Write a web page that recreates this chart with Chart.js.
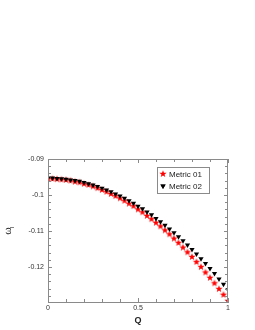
<!DOCTYPE html>
<html lang="en">
<head>
  <meta charset="UTF-8">
  <title>Omega I vs Q</title>
  <script src="https://cdn.jsdelivr.net/npm/chart.js"></script>
  <style>
    body { margin: 0; background: #fff; }
  </style>
</head>
<body>
  <canvas id="omegaChart" width="255" height="330"></canvas>

  <script>
    // Q values (41 points from 0 to 1)
    const qValues = [0, 0.025, 0.05, 0.075, 0.1, 0.125, 0.15, 0.175, 0.2, 0.225,
      0.25, 0.275, 0.3, 0.325, 0.35, 0.375, 0.4, 0.425, 0.45, 0.475,
      0.5, 0.525, 0.55, 0.575, 0.6, 0.625, 0.65, 0.675, 0.7, 0.725,
      0.75, 0.775, 0.8, 0.825, 0.85, 0.875, 0.9, 0.925, 0.95, 0.975, 1];

    const metric01 = [-0.0955, -0.0955, -0.0956, -0.0957, -0.0958, -0.0960, -0.0963, -0.0965, -0.0969, -0.0972,
      -0.0976, -0.0981, -0.0986, -0.0991, -0.0997, -0.1003, -0.1009, -0.1016, -0.1024, -0.1031,
      -0.1040, -0.1048, -0.1058, -0.1067, -0.1077, -0.1087, -0.1098, -0.1109, -0.1121, -0.1133,
      -0.1146, -0.1159, -0.1172, -0.1186, -0.1200, -0.1215, -0.1230, -0.1245, -0.1261, -0.1277, -0.1294];

    const metric02 = [-0.0953, -0.0953, -0.0954, -0.0955, -0.0956, -0.0958, -0.0960, -0.0962, -0.0965, -0.0969,
      -0.0972, -0.0976, -0.0981, -0.0986, -0.0991, -0.0997, -0.1003, -0.1009, -0.1016, -0.1023,
      -0.1031, -0.1038, -0.1047, -0.1055, -0.1065, -0.1074, -0.1084, -0.1094, -0.1105, -0.1116,
      -0.1127, -0.1139, -0.1151, -0.1164, -0.1177, -0.1190, -0.1204, -0.1218, -0.1233, -0.1248, -0.1263];

    const seriesNames = ['Metric 01', 'Metric 02'];

    const xTickValues = [0, 0.1, 0.2, 0.3, 0.4, 0.5, 0.6, 0.7, 0.8, 0.9, 1];
    const xTickLabels = ['0', '', '', '', '', '0.5', '', '', '', '', '1'];
    const yTickValues = [-0.09, -0.092, -0.094, -0.096, -0.098, -0.1, -0.102, -0.104, -0.106, -0.108,
      -0.11, -0.112, -0.114, -0.116, -0.118, -0.12, -0.122, -0.124, -0.126, -0.128];
    const yTickLabels = ['-0.09', '', '', '', '', '-0.1', '', '', '', '', '-0.11', '', '', '', '', '-0.12', '', '', '', ''];

    const FONT = '"Liberation Sans", Arial, sans-serif';
    const AXIS = '#8a8a8a';

    // filled five-point star for the red series
    function makeStar(color, r) {
      const c = document.createElement('canvas');
      const s = Math.ceil(r * 2 + 2);
      c.width = s; c.height = s;
      const g = c.getContext('2d');
      g.fillStyle = color;
      g.beginPath();
      for (let i = 0; i < 10; i++) {
        const rad = i % 2 === 0 ? r : r * 0.42;
        const a = -Math.PI / 2 + i * Math.PI / 5;
        const px = s / 2 + rad * Math.cos(a), py = s / 2 + rad * Math.sin(a);
        if (i === 0) g.moveTo(px, py); else g.lineTo(px, py);
      }
      g.closePath();
      g.fill();
      return c;
    }
    const redStar = makeStar('#ff0000', 3.8);

    const toPoints = (ys) => qValues.map((q, i) => ({ x: q, y: ys[i] }));

    // frame, inward ticks, y title with subscript, legend box
    const framePlugin = {
      id: 'frame',
      afterDraw(chart) {
        const ctx = chart.ctx;
        const a = chart.chartArea;
        const xs = chart.scales.x, ys = chart.scales.y;
        ctx.save();
        ctx.strokeStyle = AXIS;
        ctx.lineWidth = 1;
        ctx.strokeRect(a.left + 0.5, a.top + 0.5, a.right - a.left - 1, a.bottom - a.top);
        ctx.beginPath();
        xTickValues.forEach((v, i) => {
          const px = Math.round(xs.getPixelForValue(v)) + 0.5;
          const len = xTickLabels[i] ? 4 : 3;
          ctx.moveTo(px, a.bottom); ctx.lineTo(px, a.bottom - len);
          ctx.moveTo(px, a.top); ctx.lineTo(px, a.top + len);
        });
        yTickValues.forEach((v, i) => {
          const py = Math.round(ys.getPixelForValue(v)) + 0.5;
          const len = yTickLabels[i] ? 4 : 3;
          ctx.moveTo(a.left, py); ctx.lineTo(a.left + len, py);
          ctx.moveTo(a.right, py); ctx.lineTo(a.right - len, py);
        });
        ctx.stroke();

        // y axis title: omega with subscript I
        ctx.translate(a.left - 37, (a.top + a.bottom) / 2);
        ctx.rotate(-Math.PI / 2);
        ctx.fillStyle = '#222';
        ctx.textBaseline = 'alphabetic';
        ctx.font = '9px ' + FONT;
        ctx.fillText('ω', -4, 0);
        ctx.font = '6px ' + FONT;
        ctx.fillText('I', 2, 3);
        ctx.restore();

        // legend
        ctx.save();
        const lx = a.left + 109, ly = a.top + 8;
        ctx.fillStyle = '#fff';
        ctx.fillRect(lx, ly, 52, 26);
        ctx.strokeStyle = AXIS;
        ctx.strokeRect(lx + 0.5, ly + 0.5, 52, 26);
        ctx.font = '8px ' + FONT;
        ctx.fillStyle = '#222';
        ctx.textBaseline = 'middle';
        chart.data.datasets.forEach((ds, i) => {
          const cy = ly + 7 + i * 12;
          Chart.helpers.drawPoint(ctx, {
            pointStyle: ds.pointStyle, radius: ds.pointRadius, rotation: ds.rotation || 0,
            borderWidth: 0
          }, lx + 6, cy);
          if (ds.pointStyle === 'triangle') {
            ctx.fillStyle = ds.backgroundColor;
            ctx.fill();
          }
          ctx.fillStyle = '#222';
          ctx.fillText(ds.label, lx + 12, cy + 0.5);
        });
        ctx.restore();
      }
    };

    const config = {
      type: 'scatter',
      data: {
        datasets: [
          {
            label: seriesNames[0],
            data: toPoints(metric01),
            pointStyle: redStar,
            pointRadius: 4,
            order: 2
          },
          {
            label: seriesNames[1],
            data: toPoints(metric02),
            pointStyle: 'triangle',
            rotation: 180,
            pointRadius: 3,
            backgroundColor: '#000',
            borderColor: '#000',
            borderWidth: 0,
            order: 1
          }
        ]
      },
      options: {
        responsive: false,
        animation: false,
        layout: { padding: { left: 0, top: 159, right: 27, bottom: 0 } },
        plugins: {
          legend: { display: false },
          tooltip: { enabled: false }
        },
        scales: {
          x: {
            type: 'linear',
            min: 0,
            max: 1,
            afterBuildTicks: (s) => { s.ticks = xTickValues.map(v => ({ value: v })); },
            afterFit: (s) => { s.height = 28; },
            ticks: {
              autoSkip: false,
              maxRotation: 0,
              padding: 2,
              color: '#333',
              font: { family: FONT, size: 7 },
              callback: (v, i) => xTickLabels[i]
            },
            grid: { drawOnChartArea: false, drawTicks: false },
            border: { color: AXIS },
            title: {
              display: true,
              text: 'Q',
              color: '#222',
              padding: { top: 3 },
              font: { family: FONT, size: 9, weight: 'bold' }
            }
          },
          y: {
            type: 'linear',
            min: -0.1297,
            max: -0.09,
            afterBuildTicks: (s) => { s.ticks = yTickValues.map(v => ({ value: v })); },
            afterFit: (s) => { s.width = 48; },
            ticks: {
              autoSkip: false,
              padding: 4,
              color: '#333',
              font: { family: FONT, size: 7 },
              callback: (v, i) => yTickLabels[i]
            },
            grid: { drawOnChartArea: false, drawTicks: false },
            border: { color: AXIS }
          }
        }
      },
      plugins: [framePlugin]
    };

    new Chart(document.getElementById('omegaChart'), config);
  </script>
</body>
</html>
